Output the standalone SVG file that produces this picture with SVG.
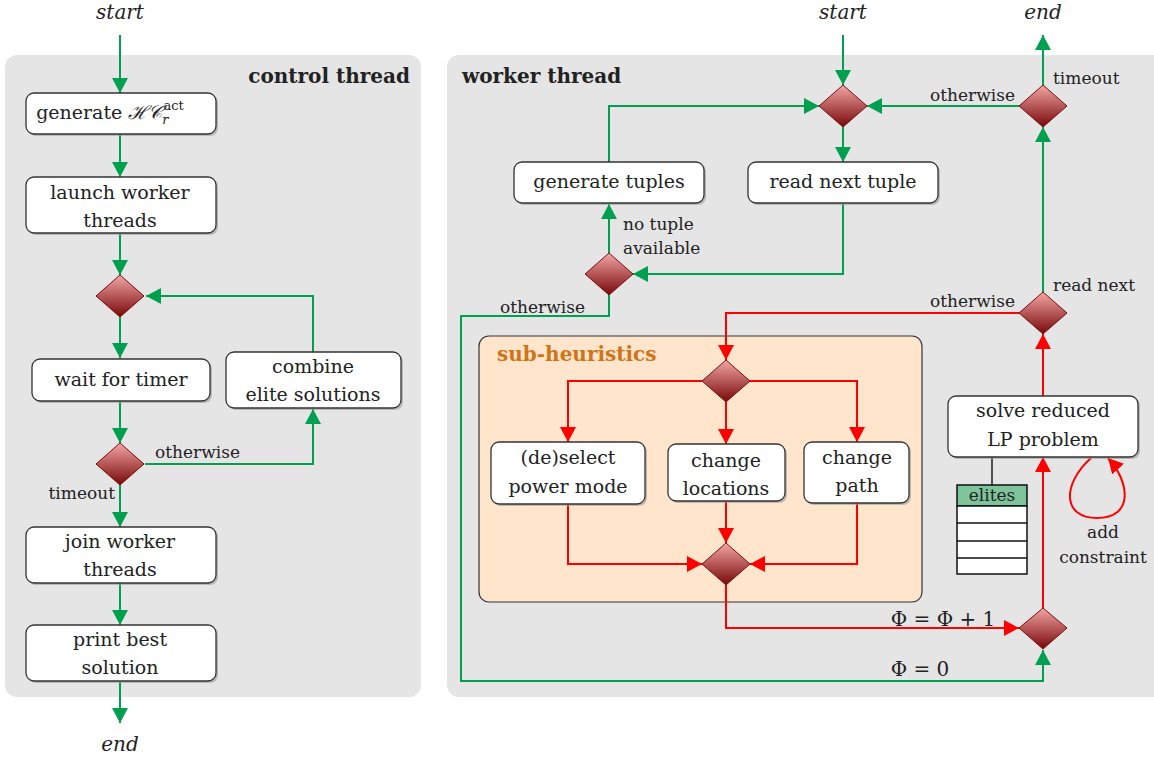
<svg xmlns="http://www.w3.org/2000/svg" width="1154" height="760" viewBox="0 0 1154 760" font-family="DejaVu Serif, serif">
<defs>
<linearGradient id="dg" x1="0" y1="0" x2="0" y2="1">
<stop offset="0" stop-color="#f4a6a6"/>
<stop offset="1" stop-color="#780808"/>
</linearGradient>
<marker id="ag" markerUnits="userSpaceOnUse" markerWidth="16" markerHeight="16" refX="15" refY="8" orient="auto" viewBox="0 0 16 16"><path d="M0,0 L15,8 L0,16 z" fill="#00a050"/></marker>
<marker id="ar" markerUnits="userSpaceOnUse" markerWidth="16" markerHeight="16" refX="15" refY="8" orient="auto" viewBox="0 0 16 16"><path d="M0,0 L15,8 L0,16 z" fill="#ff0000"/></marker>
</defs>
<style>
text{font-family:"DejaVu Serif",serif;fill:#222;}
.t{font-size:19px;text-anchor:middle;}
.s{font-size:17px;}
.m{text-anchor:middle;}
.e{text-anchor:end;}
.it{font-style:italic;font-size:20px;text-anchor:middle;}
.b{font-weight:bold;font-size:20px;}
.box{fill:#fff;stroke:#333;stroke-width:1.3;}
.sh{fill:#999;opacity:0.6;}
.dia{fill:url(#dg);stroke:#7a1010;stroke-width:1;}
.g{fill:none;stroke:#00a050;stroke-width:2;}
.r{fill:none;stroke:#ff0000;stroke-width:2;}
.ga{marker-end:url(#ag);}
.ra{marker-end:url(#ar);}
</style>
<rect x="5" y="55" width="416" height="642" rx="12" fill="#e5e5e5"/>
<rect x="447" y="55" width="720" height="642" rx="12" fill="#e5e5e5"/>
<g id="subheuristics">
<rect x="479" y="336" width="443" height="266" rx="10" fill="#ffe5cc" stroke="#333" stroke-width="1.2"/>
<text x="497" y="361" class="b" style="fill:#d07418">sub-heuristics</text>
</g>
<text x="410" y="83" class="b" text-anchor="end">control thread</text>
<text x="462" y="83" class="b">worker thread</text>

<g id="connectors">
<path class="g ga" d="M120,35 V93"/>
<path class="g ga" d="M120,134 V177"/>
<path class="g ga" d="M120,233 V275"/>
<path class="g ga" d="M120,317 V358"/>
<path class="g ga" d="M313,352 V296 H146"/>
<path class="g ga" d="M120,401 V443"/>
<path class="g ga" d="M145,464 H313 V409"/>
<path class="g ga" d="M120,484 V527"/>
<path class="g ga" d="M120,583 V625"/>
<path class="g ga" d="M120,682 V723"/>
<path class="g ga" d="M843,35 V85"/>
<path class="g ga" d="M843,127 V162"/>
<path class="g ga" d="M609,162 V106 H819"/>
<path class="g ga" d="M1019,106 H867"/>
<path class="g ga" d="M1043,85 V35"/>
<path class="g ga" d="M843,204 V274 H633"/>
<path class="g ga" d="M609,253 V204"/>
<path class="g ga" d="M609,295 V316 H461 V681 H1043 V650"/>
<path class="g ga" d="M1043,292 V127"/>
<path class="r ra" d="M1019,313 H726 V360"/>
<path class="r ra" d="M702,381 H568 V442"/>
<path class="r ra" d="M726,402 V444"/>
<path class="r ra" d="M750,381 H857 V442"/>
<path class="r ra" d="M568,504 V564 H702"/>
<path class="r ra" d="M726,501 V543"/>
<path class="r ra" d="M857,503 V564 H750"/>
<path class="r ra" d="M726,585 V628 H1019"/>
<path class="r ra" d="M1043,608 V457"/>
<path class="r ra" d="M1043,396 V334"/>
<path class="r ra" d="M1091,458 C1062,484 1062,518 1097,518 C1134,518 1130,482 1108,458"/>
<path d="M992,457 V485" fill="none" stroke="#222" stroke-width="1.5"/>
</g>

<text x="120" y="19" class="it">start</text>
<text x="120" y="751" class="it">end</text>
<text x="843" y="19" class="it">start</text>
<text x="1043" y="19" class="it">end</text>

<g id="n_generate">
<rect class="sh" x="28" y="95" width="190" height="41" rx="8"/>
<rect class="box" x="26" y="93" width="190" height="41" rx="8"/>
<text x="110" y="119" class="t">generate <tspan font-style="italic">ℋ𝒞</tspan><tspan font-size="13" font-style="italic" dy="5">r</tspan><tspan font-size="13" dx="-5" dy="-14">act</tspan></text>
</g>
<g id="n_launch">
<rect class="sh" x="28" y="179" width="190" height="56" rx="8"/>
<rect class="box" x="26" y="177" width="190" height="56" rx="8"/>
<text x="120" y="199" class="t">launch worker</text>
<text x="120" y="227" class="t">threads</text>
</g>
<g id="d_loop"><path class="dia" d="M120,275 L144,296 L120,317 L96,296 z"/></g>
<g id="n_wait">
<rect class="sh" x="34" y="361" width="178" height="42" rx="8"/>
<rect class="box" x="32" y="359" width="178" height="42" rx="8"/>
<text x="121" y="386" class="t">wait for timer</text>
</g>
<g id="n_combine">
<rect class="sh" x="228" y="354" width="175" height="56" rx="8"/>
<rect class="box" x="226" y="352" width="175" height="56" rx="8"/>
<text x="313" y="373" class="t">combine</text>
<text x="313" y="401" class="t">elite solutions</text>
</g>
<g id="d_timer"><path class="dia" d="M120,443 L144,464 L120,485 L96,464 z"/>
<text x="155" y="458" class="s">otherwise</text>
<text x="115" y="499" class="s e">timeout</text>
</g>
<g id="n_join">
<rect class="sh" x="28" y="529" width="190" height="56" rx="8"/>
<rect class="box" x="26" y="527" width="190" height="56" rx="8"/>
<text x="120" y="548" class="t">join worker</text>
<text x="120" y="576" class="t">threads</text>
</g>
<g id="n_print">
<rect class="sh" x="28" y="627" width="190" height="56" rx="8"/>
<rect class="box" x="26" y="625" width="190" height="56" rx="8"/>
<text x="120" y="646" class="t">print best</text>
<text x="120" y="674" class="t">solution</text>
</g>

<g id="d_top"><path class="dia" d="M843,85 L867,106 L843,127 L819,106 z"/></g>
<g id="d_timeout"><path class="dia" d="M1043,85 L1067,106 L1043,127 L1019,106 z"/>
<text x="1053" y="84" class="s">timeout</text>
<text x="1015" y="101" class="s e">otherwise</text>
</g>
<g id="n_gentuples">
<rect class="sh" x="516" y="164" width="190" height="41" rx="8"/>
<rect class="box" x="514" y="162" width="190" height="41" rx="8"/>
<text x="609" y="188" class="t">generate tuples</text>
</g>
<g id="n_readtuple">
<rect class="sh" x="750" y="164" width="190" height="41" rx="8"/>
<rect class="box" x="748" y="162" width="190" height="41" rx="8"/>
<text x="843" y="188" class="t">read next tuple</text>
</g>
<g id="d_tuple"><path class="dia" d="M609,253 L633,274 L609,295 L585,274 z"/>
<text x="623" y="230" class="s">no tuple</text>
<text x="623" y="254" class="s">available</text>
<text x="500" y="313" class="s">otherwise</text>
</g>
<g id="d_readnext"><path class="dia" d="M1043,292 L1067,313 L1043,334 L1019,313 z"/>
<text x="1053" y="291" class="s">read next</text>
<text x="1015" y="307" class="s e">otherwise</text>
</g>
<g id="d_subsplit"><path class="dia" d="M726,360 L750,381 L726,402 L702,381 z"/></g>
<g id="n_deselect">
<rect class="sh" x="493" y="444" width="154" height="62" rx="8"/>
<rect class="box" x="491" y="442" width="154" height="62" rx="8"/>
<text x="568" y="464" class="t">(de)select</text>
<text x="568" y="493" class="t">power mode</text>
</g>
<g id="n_locations">
<rect class="sh" x="670" y="446" width="117" height="57" rx="8"/>
<rect class="box" x="668" y="444" width="117" height="57" rx="8"/>
<text x="726" y="467" class="t">change</text>
<text x="726" y="495" class="t">locations</text>
</g>
<g id="n_path">
<rect class="sh" x="806" y="444" width="105" height="61" rx="8"/>
<rect class="box" x="804" y="442" width="105" height="61" rx="8"/>
<text x="857" y="464" class="t">change</text>
<text x="857" y="492" class="t">path</text>
</g>
<g id="d_submerge"><path class="dia" d="M726,543 L750,564 L726,585 L702,564 z"/></g>
<g id="n_solve">
<rect class="sh" x="950" y="398" width="190" height="61" rx="8"/>
<rect class="box" x="948" y="396" width="190" height="61" rx="8"/>
<text x="1043" y="417" class="t">solve reduced</text>
<text x="1043" y="446" class="t">LP problem</text>
<text x="1103" y="538" class="s m">add</text>
<text x="1103" y="563" class="s m">constraint</text>
</g>
<g id="elites">
<rect x="957" y="485" width="70" height="21" fill="#7dc49a" stroke="#111" stroke-width="1.5"/>
<rect x="957" y="506" width="70" height="68" fill="#fff" stroke="#111" stroke-width="1.5"/>
<path d="M957,523 H1027 M957,541 H1027 M957,558 H1027" stroke="#111" stroke-width="1.5"/>
<text x="992" y="501" class="s m">elites</text>
</g>
<g id="d_phi"><path class="dia" d="M1043,608 L1067,628 L1043,649 L1019,628 z"/>
<text x="943" y="626" class="m" font-size="20">Φ = Φ + 1</text>
<text x="920" y="676" class="m" font-size="20">Φ = 0</text>
</g>
</svg>
